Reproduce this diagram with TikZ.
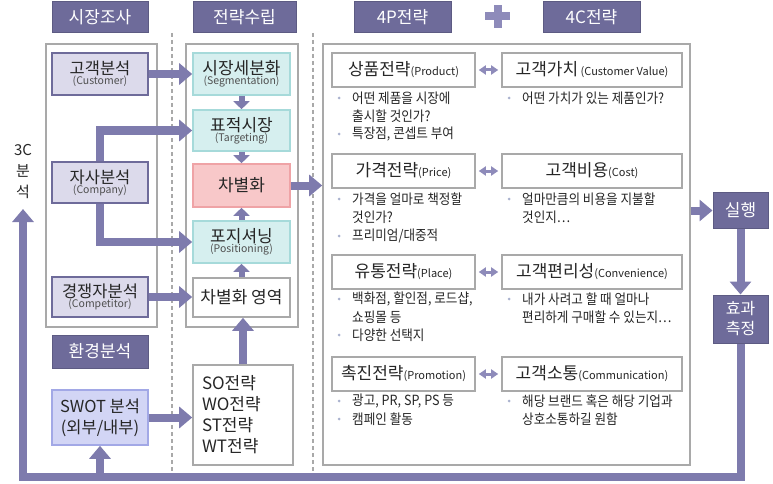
\documentclass[tikz,border=0pt]{standalone}
\usepackage{fontspec}
\setmainfont{Noto Sans CJK KR}
\newfontfamily\condkr[FakeStretch=0.9]{Noto Sans CJK KR}
\usetikzlibrary{arrows.meta}
\definecolor{hdr}{HTML}{6E6B9A}
\definecolor{arr}{HTML}{7E7BAD}
\definecolor{dblc}{HTML}{8E8BBA}
\definecolor{anafill}{HTML}{DCDAEB}
\definecolor{cyfill}{HTML}{D6EFEF}
\definecolor{cydraw}{HTML}{A6DADA}
\definecolor{pkfill}{HTML}{F8C8C9}
\definecolor{pkdraw}{HTML}{EFA3A6}
\definecolor{swfill}{HTML}{D2D5F5}
\definecolor{swdraw}{HTML}{A2A8E6}
\definecolor{gbox}{HTML}{A9A9A9}
\definecolor{txt}{HTML}{262626}
\definecolor{subt}{HTML}{505050}
\definecolor{dotc}{HTML}{AAB2CE}
\begin{document}
\begin{tikzpicture}[x=1pt,y=-1pt,
  hdrbox/.style={fill=hdr, draw=hdr!85!black, line width=1pt, text=white, inner sep=0,
    font=\fontsize{17}{19}\selectfont, minimum height=31pt, minimum width=97pt},
  cont/.style={draw=gbox, line width=1.6pt, inner sep=0},
  anabox/.style={fill=anafill, draw=hdr, line width=1.6pt, inner sep=0, align=center, text=txt,
    minimum width=96pt},
  cybox/.style={fill=cyfill, draw=cydraw, line width=1.6pt, inner sep=0, align=center, text=txt,
    minimum width=97pt},
  wbox/.style={fill=white, draw=gbox, line width=1.6pt, inner sep=0, text=txt},
  big/.style={draw=arr, line width=8pt, -{Triangle[width=21pt,length=13pt]}},
  small/.style={draw=arr, line width=6pt, -{Triangle[width=16pt,length=8pt]}},
  dbl/.style={draw=dblc, line width=3pt, {Triangle[width=9pt,length=7pt]}-{Triangle[width=9pt,length=7pt]},
    shorten <=3pt, shorten >=3pt},
  btxt/.style={anchor=west, inner sep=0, font=\condkr\fontsize{14}{16}\selectfont, text=txt},
  bdot/.style={circle, fill=dotc, inner sep=0, minimum size=3pt},
  dsh/.style={draw=gbox, line width=1.2pt, dash pattern=on 4pt off 3pt}
]
\useasboundingbox (0,0) rectangle (773,484);

% headers
\node[hdrbox, minimum width=96pt] (h1) at (100,17.5) {시장조사};
\node[hdrbox, minimum width=103pt] (h2) at (244.5,17.5) {전략수립};
\node[hdrbox] (h3) at (402.5,17.5) {4P전략};
\node[hdrbox] (h4) at (591.5,17.5) {4C전략};
\fill[dblc] (493.5,5) rectangle (501.5,28);
\fill[dblc] (485,12.5) rectangle (510,20.5);

% dashed separators
\draw[dsh] (172,33) -- (172,472);
\draw[dsh] (313,33) -- (313,472);

% containers
\node[cont, minimum width=111pt, minimum height=283pt] (g1) at (101.5,185.5) {};
\node[cont, minimum width=112pt, minimum height=283pt] (g2) at (242,185.5) {};
\node[cont, minimum width=367pt, minimum height=421pt] (g3) at (506.5,254.5) {};

% left column
\node[anabox, minimum height=42pt] (cust) at (100,74)
  {{\fontsize{16.5}{18}\selectfont 고객분석}\\[-2pt]{\color{subt}\fontsize{10.5}{12}\selectfont (Customer)}};
\node[anabox, minimum height=41pt] (comp) at (100,182.5)
  {{\fontsize{16.5}{18}\selectfont 자사분석}\\[-2pt]{\color{subt}\fontsize{10.5}{12}\selectfont (Company)}};
\node[anabox, minimum height=40pt] (compet) at (100,297)
  {{\fontsize{16.5}{18}\selectfont 경쟁자분석}\\[-2pt]{\color{subt}\fontsize{10.5}{12}\selectfont (Competitor)}};
\node[hdrbox, minimum width=96pt, minimum height=33pt] (env) at (100,351.5) {환경분석};
\node[anabox, fill=swfill, draw=swdraw, minimum height=55pt, font=\fontsize{16.5}{21}\selectfont] (swot) at (100,417.5)
  {SWOT 분석\\(외부/내부)};

% strategy column
\node[cybox, minimum height=42pt] (seg) at (241.5,74)
  {{\fontsize{17}{18}\selectfont 시장세분화}\\[-2pt]{\color{subt}\fontsize{10.5}{12}\selectfont (Segmentation)}};
\node[cybox, minimum height=41pt] (tgt) at (241.5,130.5)
  {{\fontsize{17}{18}\selectfont 표적시장}\\[-2pt]{\color{subt}\fontsize{10.5}{12}\selectfont (Targeting)}};
\node[cybox, fill=pkfill, draw=pkdraw, minimum height=43pt, font=\fontsize{17}{19}\selectfont] (diff) at (241.5,185.5) {차별화};
\node[cybox, minimum height=42pt] (pos) at (241.5,242)
  {{\fontsize{17}{18}\selectfont 포지셔닝}\\[-2pt]{\color{subt}\fontsize{10.5}{12}\selectfont (Positioning)}};
\node[wbox, minimum width=97pt, minimum height=39pt, font=\fontsize{17}{19}\selectfont] (area) at (241.5,297.5) {차별화 영역};
\node[wbox, minimum width=100pt, minimum height=100pt, align=left, text width=82pt,
  font=\fontsize{17}{21}\selectfont] (so) at (243,415)
  {SO전략\\WO전략\\ST전략\\WT전략};

% 3C label
\node[align=center, text=txt, inner sep=0, font=\fontsize{15}{21}\selectfont] (c3lbl) at (23,171) {3C\\분\\석};

% right side
\node[hdrbox, minimum width=55pt, minimum height=36pt, font=\fontsize{17}{19}\selectfont] (exec) at (740.5,210.5) {실행};
\node[hdrbox, minimum width=55pt, minimum height=48pt, align=center, font=\fontsize{16}{20}\selectfont] (eff) at (740.5,319) {효과\\측정};

% 4P / 4C boxes
\newcommand{\bigt}[1]{{\fontsize{17}{19}\selectfont #1}}
\newcommand{\smt}[1]{{\fontsize{11}{12}\selectfont #1}}
\node[wbox, minimum width=143pt, minimum height=34pt] (p1) at (403.5,70) {\bigt{상품전략}\smt{(Product)}};
\node[wbox, minimum width=180pt, minimum height=34pt] (q1) at (592,70) {\bigt{고객가치}\smt{ (Customer Value)}};
\node[wbox, minimum width=143pt, minimum height=34pt] (p2) at (403.5,171) {\bigt{가격전략}\smt{(Price)}};
\node[wbox, minimum width=180pt, minimum height=34pt] (q2) at (592,171) {\bigt{고객비용}\smt{(Cost)}};
\node[wbox, minimum width=143pt, minimum height=34pt] (p3) at (403.5,272) {\bigt{유통전략}\smt{(Place)}};
\node[wbox, minimum width=180pt, minimum height=34pt] (q3) at (592,272) {\bigt{고객편리성}\smt{(Convenience)}};
\node[wbox, minimum width=143pt, minimum height=34pt] (p4) at (403.5,374) {\bigt{촉진전략}\smt{(Promotion)}};
\node[wbox, minimum width=180pt, minimum height=34pt] (q4) at (592,374) {\bigt{고객소통}\smt{(Communication)}};

\draw[dbl] (p1.east) -- (q1.west);
\draw[dbl] (p2.east) -- (q2.west);
\draw[dbl] (p3.east) -- (q3.west);
\draw[dbl] (p4.east) -- (q4.west);

% bullets row 1
\node[bdot] (d1a) at (339,98) {};
\node[btxt] (t1a) at (352,98) {어떤 제품을 시장에};
\node[btxt] (t1b) at (352,116) {출시할 것인가?};
\node[bdot] (d1c) at (339,134) {};
\node[btxt] (t1c) at (352,134) {특장점, 콘셉트 부여};
\node[bdot] (e1a) at (509,98) {};
\node[btxt] (u1a) at (522,98) {어떤 가치가 있는 제품인가?};
% row 2
\node[bdot] (d2a) at (339,199) {};
\node[btxt] (t2a) at (352,199) {가격을 얼마로 책정할};
\node[btxt] (t2b) at (352,217) {것인가?};
\node[bdot] (d2c) at (339,236) {};
\node[btxt] (t2c) at (352,236) {프리미엄/대중적};
\node[bdot] (e2a) at (509,199) {};
\node[btxt] (u2a) at (522,199) {얼마만큼의 비용을 지불할};
\node[btxt] (u2b) at (522,217) {것인지…};
% row 3
\node[bdot] (d3a) at (339,299) {};
\node[btxt] (t3a) at (352,299) {백화점, 할인점, 로드샵,};
\node[btxt] (t3b) at (352,317) {쇼핑몰 등};
\node[bdot] (d3c) at (339,335) {};
\node[btxt] (t3c) at (352,335) {다양한 선택지};
\node[bdot] (e3a) at (509,299) {};
\node[btxt] (u3a) at (522,299) {내가 사려고 할 때 얼마나};
\node[btxt] (u3b) at (522,317) {편리하게 구매할 수 있는지…};
% row 4
\node[bdot] (d4a) at (339,401) {};
\node[btxt] (t4a) at (352,401) {광고, PR, SP, PS 등};
\node[bdot] (d4b) at (339,419) {};
\node[btxt] (t4b) at (352,419) {캠페인 활동};
\node[bdot] (e4a) at (509,401) {};
\node[btxt] (u4a) at (522,401) {해당 브랜드 혹은 해당 기업과};
\node[btxt] (u4b) at (522,419) {상호소통하길 원함};

% big connectors
\coordinate (kA) at (100,130.5);
\coordinate (kB) at (100,242);
\coordinate (fbR) at (740.5,477);
\coordinate (fbL) at (23,477);
\coordinate (fbT) at (23,209);
\draw[big] (cust.east) -- (seg.west);
\draw[big] (comp.north) -- (kA) -- (tgt.west);
\draw[big] (comp.south) -- (kB) -- (pos.west);
\draw[big] (compet.east) -- (compet.east -| area.west);
\draw[big] (swot.east) -- (swot.east -| so.west);
\draw[big] (so.north) -- (so.north |- area.south);
\draw[big] (diff.east) -- (diff.east -| g3.west);
\draw[big] (g3.east |- exec.west) -- (exec.west);
\draw[big] (exec.south) -- (eff.north);
\draw[big] (eff.south) -- (fbR) -- (fbL) -- (fbT);
\draw[big] (swot.south |- fbL) -- (swot.south);

% small connectors
\draw[small] (seg.south) -- (tgt.north);
\draw[small] (tgt.south) -- (diff.north);
\draw[small] (pos.north) -- (diff.south);
\draw[small] (area.north) -- (pos.south);
\end{tikzpicture}
\end{document}
